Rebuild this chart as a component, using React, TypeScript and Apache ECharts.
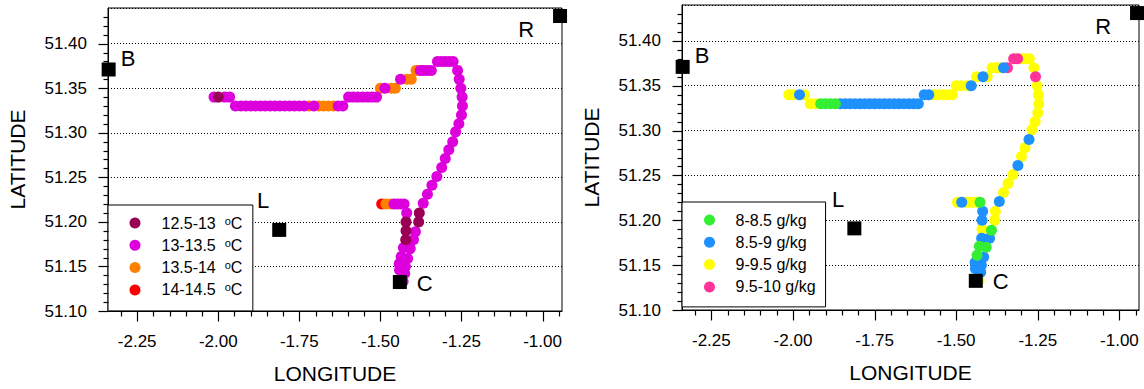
import React, { useEffect, useRef } from "react";
import * as echarts from "echarts";

// ---- data ----
const trackLon = [
  -1.430, -1.425, -1.441, -1.442, -1.436, -1.429, -1.422, -1.421, -1.421, -1.419,
  -1.427, -1.438, -1.448, -1.458, -1.470, -1.483, -1.496,
  -1.423, -1.416, -1.408, -1.398, -1.392, -1.382, -1.380, -1.368, -1.355, -1.341, -1.326, -1.311,
  -1.300, -1.289, -1.277, -1.268, -1.258, -1.250, -1.247, -1.248, -1.252, -1.257, -1.262,
  -1.276, -1.288, -1.300, -1.312, -1.324,
  -1.343, -1.355, -1.367, -1.377, -1.390,
  -1.405, -1.418, -1.438,
  -1.454, -1.466, -1.486, -1.500,
  -1.512, -1.526, -1.540, -1.555, -1.570, -1.584, -1.598,
  -1.616, -1.630, -1.645, -1.660, -1.675, -1.690, -1.705, -1.720, -1.735, -1.750, -1.765, -1.780,
  -1.795, -1.810, -1.825, -1.840, -1.855, -1.870, -1.885, -1.900, -1.915, -1.930, -1.947,
  -1.965, -1.980, -2.000, -2.013,
];

const trackLat = [
  51.133, 51.142, 51.146, 51.153, 51.161, 51.171, 51.180, 51.190, 51.200, 51.210,
  51.220, 51.220, 51.220, 51.220, 51.220, 51.220, 51.220,
  51.150, 51.159, 51.170, 51.180, 51.189, 51.200, 51.210, 51.221, 51.231, 51.241, 51.251, 51.261,
  51.271, 51.281, 51.290, 51.301, 51.310, 51.320, 51.330, 51.340, 51.350, 51.360, 51.370,
  51.380, 51.380, 51.380, 51.380, 51.380,
  51.370, 51.370, 51.370, 51.370, 51.370,
  51.360, 51.360, 51.360,
  51.350, 51.350, 51.350, 51.350,
  51.340, 51.340, 51.340, 51.340, 51.340, 51.340, 51.340,
  51.330, 51.330, 51.330, 51.330, 51.330, 51.330, 51.330, 51.330, 51.330, 51.330, 51.330, 51.330,
  51.330, 51.330, 51.330, 51.330, 51.330, 51.330, 51.330, 51.330, 51.330, 51.330, 51.330,
  51.340, 51.340, 51.340, 51.340,
];

// temperature class: 0 = 12.5-13, 1 = 13-13.5, 2 = 13.5-14, 3 = 14-14.5
const tempClass = [
  1, 1, 1, 1, 1, 1, 0, 0, 0, 1,
  1, 1, 1, 1, 2, 2, 3,
  1, 1, 1, 1, 1, 0, 0, 1, 1, 1, 1, 1,
  1, 1, 1, 1, 1, 1, 1, 1, 1, 1, 1,
  1, 1, 1, 1, 1,
  1, 1, 1, 1, 2,
  2, 2, 1,
  2, 2, 1, 2,
  1, 1, 1, 1, 1, 1, 1,
  1, 1, 2, 2, 2, 2, 1, 2, 1, 1, 1, 1,
  1, 1, 1, 1, 1, 1, 1, 1, 1, 1, 1,
  1, 1, 0, 1,
];

// humidity class: 0 = 8-8.5, 1 = 8.5-9, 2 = 9-9.5, 3 = 9.5-10
const humClass = [
  2, 1, 1, 1, 0, 0, 1, 2, 1, 1,
  0, 2, 2, 2, 2, 1, 2,
  1, 1, 0, 1, 0, 2, 2, 1, 2, 2, 2, 1,
  2, 2, 1, 2, 2, 2, 2, 2, 2, 3, 2,
  2, 2, 2, 3, 3,
  3, 1, 2, 2, 2,
  2, 1, 2,
  1, 2, 2, 2,
  2, 2, 2, 2, 2, 1, 1,
  1, 1, 1, 1, 1, 1, 1, 1, 1, 1, 1, 1,
  1, 1, 1, 1, 1, 0, 0, 0, 0, 2, 2,
  2, 1, 2, 2,
];

const tempLabels = ["12.5-13", "13-13.5", "13.5-14", "14-14.5"];
const humLabels = ["8-8.5 g/kg", "8.5-9 g/kg", "9-9.5 g/kg", "9.5-10 g/kg"];

const stationNames = ["B", "L", "C", "R"];
const stationLon = [-2.338, -1.812, -1.44, -0.946];
const stationLat = [51.371, 51.191, 51.1325, 51.431];

const lonTicks = [-2.25, -2.0, -1.75, -1.5, -1.25, -1.0];
const lonMinorTicks = [
  -2.3, -2.2, -2.15, -2.1, -2.05, -1.95, -1.9, -1.85, -1.8, -1.7, -1.65, -1.6, -1.55,
  -1.45, -1.4, -1.35, -1.3, -1.2, -1.15, -1.1, -1.05, -0.95,
];
const latTicks = [51.1, 51.15, 51.2, 51.25, 51.3, 51.35, 51.4];
const latMinorTicks = [
  51.11, 51.12, 51.13, 51.14, 51.16, 51.17, 51.18, 51.19, 51.21, 51.22, 51.23, 51.24,
  51.26, 51.27, 51.28, 51.29, 51.31, 51.32, 51.33, 51.34, 51.36, 51.37, 51.38, 51.39,
  51.41, 51.42, 51.43,
];

// ---- styles ----
const FONT = "'Liberation Sans', Arial, Helvetica, sans-serif";
const tempColors = ["#990055", "#dd00dd", "#ff8000", "#ff0000"];
const humColors = ["#33ee33", "#1e90ff", "#ffff00", "#ff3399"];
const tempDrawOrder = [3, 2, 1, 0];
const humDrawOrder = [2, 3, 1, 0];
const stationLabelStyle: Record<string, any> = {
  B: { position: "right", distance: 5, offset: [0, -11] },
  L: { position: "left", distance: 3, offset: [0, -29] },
  C: { position: "right", distance: 10, offset: [0, 1] },
  R: { position: "left", distance: 19, offset: [0, 13] },
};

const LON_MIN = -2.34;
const LON_MAX = -0.94;
const LAT_MIN = 51.1;
const LAT_MAX = 51.44;

const panels = [
  { left: 108, top: 8, width: 454, height: 303 },
  { left: 682, top: 5, width: 457, height: 305 },
];

const black = { color: "#000", width: 1 };

function xAxisFor(gridIndex: number) {
  return {
    type: "value",
    gridIndex,
    min: LON_MIN,
    max: LON_MAX,
    position: "bottom",
    name: "LONGITUDE",
    nameLocation: "middle",
    nameGap: 52,
    nameTextStyle: { fontSize: 21, color: "#000", fontFamily: FONT },
    axisLine: { show: true, onZero: false, lineStyle: black },
    axisTick: { show: false },
    axisLabel: {
      show: true,
      customValues: lonTicks,
      margin: 22,
      fontSize: 17,
      color: "#000",
      fontFamily: FONT,
      formatter: (v: number) => v.toFixed(2),
    },
    splitLine: { show: false },
  };
}

function yAxisFor(gridIndex: number) {
  return {
    type: "value",
    gridIndex,
    min: LAT_MIN,
    max: LAT_MAX,
    interval: 0.05,
    position: "left",
    name: "LATITUDE",
    nameLocation: "middle",
    nameRotate: 90,
    nameGap: 80,
    nameTextStyle: { fontSize: 21, color: "#000", fontFamily: FONT },
    axisLine: { show: true, onZero: false, lineStyle: black },
    axisTick: { show: false },
    axisLabel: {
      show: true,
      customValues: latTicks,
      margin: 21,
      fontSize: 17,
      color: "#000",
      fontFamily: FONT,
      formatter: (v: number) => v.toFixed(2),
    },
    splitLine: { show: true, lineStyle: { color: "#000", width: 1, type: [1, 2] } },
  };
}

// tick marks: custom series, each tick placed through the axis scale with api.coord
function tickSeries(axisIndex: number) {
  const rows: number[][] = [
    ...lonTicks.map((v) => [v, LAT_MIN, 0, 10]),
    ...lonMinorTicks.map((v) => [v, LAT_MIN, 0, 5]),
    ...latTicks.map((v) => [LON_MIN, v, 1, 10]),
    ...latMinorTicks.map((v) => [LON_MIN, v, 1, 5]),
  ];
  return {
    type: "custom",
    name: "ticks",
    xAxisIndex: axisIndex,
    yAxisIndex: axisIndex,
    clip: false,
    silent: true,
    z: 6,
    encode: { x: 0, y: 1 },
    data: rows,
    renderItem: (params: any, api: any) => {
      const p = api.coord([api.value(0), api.value(1)]);
      const vertical = api.value(2) === 0;
      const len = api.value(3);
      const x = Math.round(p[0]) + 0.5;
      const y = Math.round(p[1]) + 0.5;
      return {
        type: "line",
        shape: vertical
          ? { x1: x, y1: y, x2: x, y2: y + len }
          : { x1: x, y1: y, x2: x - len, y2: y },
        style: { stroke: "#000", lineWidth: 1.2 },
      };
    },
  };
}

function trackSeries(
  classes: number[],
  labels: string[],
  colors: string[],
  order: number[],
  axisIndex: number
) {
  return order.map((c) => ({
    type: "scatter",
    name: labels[c],
    xAxisIndex: axisIndex,
    yAxisIndex: axisIndex,
    symbol: "circle",
    symbolSize: 11,
    itemStyle: { color: colors[c], opacity: 1 },
    emphasis: { disabled: true },
    silent: true,
    z: 3,
    data: trackLon
      .map((lon, i) => ({ lon, lat: trackLat[i], k: classes[i] }))
      .filter((p) => p.k === c)
      .map((p) => [p.lon, p.lat]),
  }));
}

function stationSeries(axisIndex: number) {
  return {
    type: "scatter",
    name: "stations",
    xAxisIndex: axisIndex,
    yAxisIndex: axisIndex,
    symbol: "rect",
    symbolSize: 14,
    clip: false,
    silent: true,
    z: 5,
    itemStyle: { color: "#000", opacity: 1 },
    emphasis: { disabled: true },
    label: {
      show: true,
      formatter: "{b}",
      fontSize: 22,
      color: "#000",
      fontFamily: FONT,
    },
    data: stationNames.map((n, i) => ({
      name: n,
      value: [stationLon[i], stationLat[i]],
      label: stationLabelStyle[n],
    })),
  };
}

function buildOption() {
  const legendBase = {
    orient: "vertical",
    icon: "circle",
    itemWidth: 11,
    itemHeight: 11,
    itemGap: 6.3,
    backgroundColor: "#fff",
    borderColor: "#000",
    borderWidth: 1,
    borderRadius: 0,
    selectedMode: false,
  };
  const txt = { fontSize: 16, color: "#000", fontFamily: FONT };
  return {
    animation: false,
    textStyle: { fontFamily: FONT },
    grid: panels.map((g) => ({
      ...g,
      show: true,
      borderColor: "#000",
      borderWidth: 1,
      backgroundColor: "transparent",
    })),
    xAxis: [xAxisFor(0), xAxisFor(1)],
    yAxis: [yAxisFor(0), yAxisFor(1)],
    legend: [
      {
        ...legendBase,
        left: 108,
        top: 205,
        padding: [10, 10.5, 13, 21.5],
        data: tempLabels,
        formatter: (name: string) => `{sp| }{n|${name}  }{o|o}{n|C}`,
        textStyle: {
          ...txt,
          rich: {
            sp: { ...txt, width: 16 },
            n: { ...txt },
            o: { fontSize: 11, verticalAlign: "top", color: "#000", fontFamily: FONT },
          },
        },
      },
      {
        ...legendBase,
        left: 682,
        top: 202,
        padding: [10, 10, 12, 22],
        data: humLabels,
        formatter: (name: string) => `{sp| }{n|${name}}`,
        textStyle: {
          ...txt,
          rich: { sp: { ...txt, width: 15.5 }, n: { ...txt } },
        },
      },
    ],
    series: [
      ...trackSeries(tempClass, tempLabels, tempColors, tempDrawOrder, 0),
      stationSeries(0),
      tickSeries(0),
      ...trackSeries(humClass, humLabels, humColors, humDrawOrder, 1),
      stationSeries(1),
      tickSeries(1),
    ],
  };
}

export default function App() {
  const ref = useRef<HTMLDivElement>(null);
  useEffect(() => {
    document.body.style.margin = "0";
    const chart = echarts.init(ref.current!, null, { renderer: "svg" });
    chart.setOption(buildOption() as any);
    return () => chart.dispose();
  }, []);
  return <div ref={ref} style={{ width: 1144, height: 389, background: "#fff" }} />;
}
